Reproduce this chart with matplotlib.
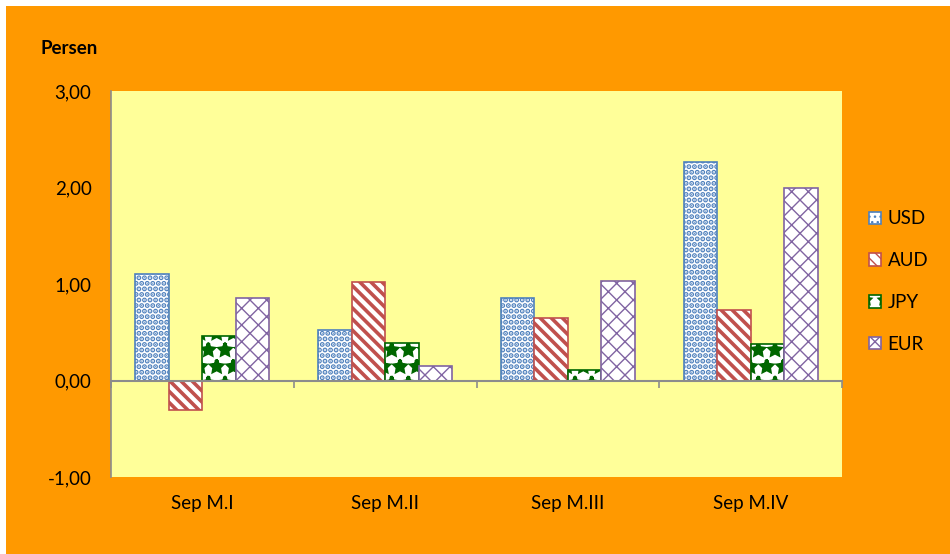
import numpy as np
import matplotlib
matplotlib.use("Agg")
import matplotlib.pyplot as plt
from matplotlib.patches import Patch, Rectangle
from matplotlib.ticker import FuncFormatter

# Data
periods = ["Sep M.I", "Sep M.II", "Sep M.III", "Sep M.IV"]
usd = [1.10, 0.52, 0.85, 2.26]
aud = [-0.31, 1.02, 0.65, 0.73]
jpy = [0.46, 0.39, 0.11, 0.38]
eur = [0.85, 0.15, 1.03, 1.99]

series = [
    ("USD", usd, "#4F81BD", "...", 2.6),
    ("AUD", aud, "#C0504D", "\\\\\\", 2.6),
    ("JPY", jpy, "#006600", "*", 2.4),
    ("EUR", eur, "#8064A2", "xx", 1.0),
]

ORANGE = "#FF9900"
PLOT_BG = "#FFFF99"
AXIS_GRAY = "#8C8C8C"

plt.rcParams["font.family"] = ["Lato", "DejaVu Sans"]
FS = 13.5

fig = plt.figure(figsize=(9.5, 5.54), dpi=100)
fig.patch.set_facecolor("white")
fig.patches.append(Rectangle((6 / 950, 0), 1, 1 - 6 / 554, transform=fig.transFigure,
                             facecolor=ORANGE, edgecolor="none", zorder=-10))

ax = fig.add_axes([111 / 950, 77 / 554, 731 / 950, 386 / 554])
ax.set_facecolor(PLOT_BG)

x = np.arange(len(periods))
width = 0.183
offsets = (np.arange(len(series)) - 1.5) * width

handles = []
for (name, vals, color, hatch, hlw), off in zip(series, offsets):
    plt.rcParams["hatch.linewidth"] = hlw
    bars = ax.bar(x + off, vals, width, facecolor="white", edgecolor=color,
                  hatch=hatch, linewidth=1.2, zorder=3)
    for b in bars:
        if hasattr(b, "set_hatch_linewidth"):
            b.set_hatch_linewidth(hlw)
    h = Patch(facecolor="white", edgecolor=color, hatch=hatch, linewidth=1.2, label=name)
    if hasattr(h, "set_hatch_linewidth"):
        h.set_hatch_linewidth(hlw)
    handles.append(h)

ax.set_xlim(-0.5, len(periods) - 0.5)
ax.set_ylim(-1, 3)
ax.set_yticks([-1, 0, 1, 2, 3])
ax.yaxis.set_major_formatter(FuncFormatter(lambda v, p: f"{v:.2f}".replace(".", ",")))
ax.tick_params(axis="y", length=0, pad=14, labelsize=FS)

for s in ["top", "right"]:
    ax.spines[s].set_visible(False)
ax.spines["left"].set_color(AXIS_GRAY)
ax.spines["left"].set_linewidth(1.2)

# category axis sits on the zero line, with ticks at group boundaries
ax.spines["bottom"].set_position(("data", 0))
ax.spines["bottom"].set_color(AXIS_GRAY)
ax.spines["bottom"].set_linewidth(1.5)
ax.spines["bottom"].set_zorder(4)
ax.set_xticks(np.arange(len(periods) + 1) - 0.5)
ax.set_xticklabels([])
ax.tick_params(axis="x", length=5, width=1.2, color=AXIS_GRAY, direction="out")

sec = ax.secondary_xaxis(0)
sec.set_xticks(x, periods)
sec.tick_params(length=0, pad=13, labelsize=FS)
sec.spines["bottom"].set_visible(False)

fig.text(41 / 950, 1 - 48 / 554, "Persen", fontsize=FS, fontweight="bold", va="center")

leg = fig.legend(handles=handles, loc="center left", bbox_to_anchor=(852 / 950, 1 - 281.5 / 554),
                 frameon=False, handlelength=0.65, handleheight=0.65, handletextpad=0.35,
                 labelspacing=1.32, fontsize=FS)

fig.savefig("out.png", dpi=100, facecolor=fig.get_facecolor())
